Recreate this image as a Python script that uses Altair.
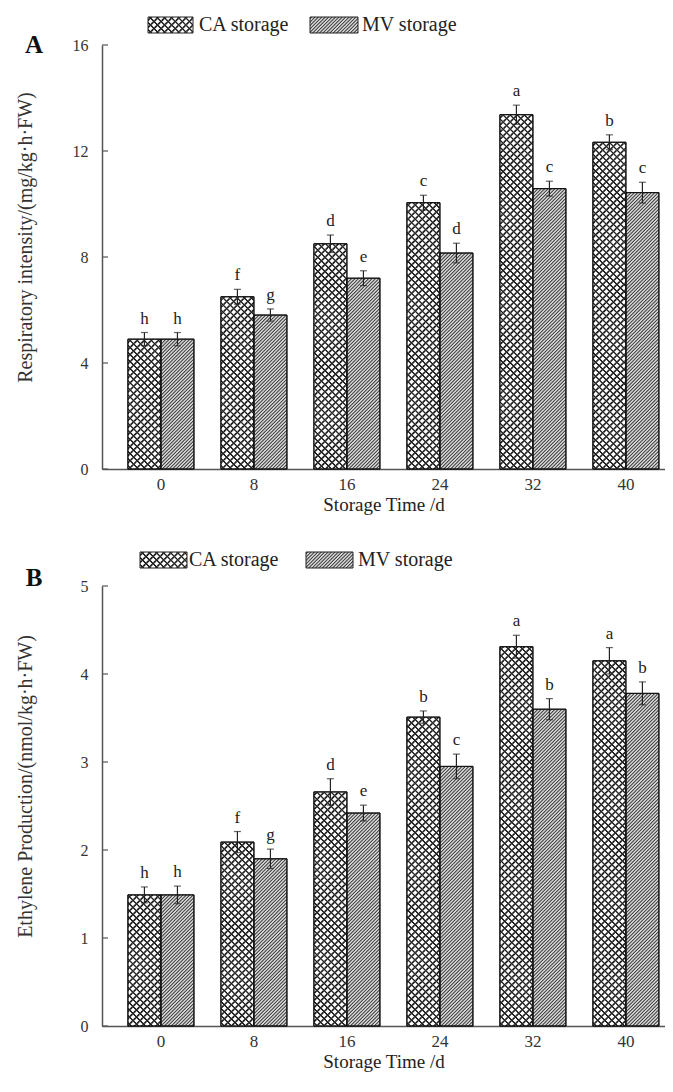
import altair as alt
import pandas as pd

# ---------------- data ----------------
days = ["0", "8", "16", "24", "32", "40"]
series = ["CA storage", "MV storage"]

resp_ca = [4.9, 6.5, 8.5, 10.05, 13.37, 12.33]
resp_ca_err = [0.25, 0.28, 0.33, 0.28, 0.36, 0.28]
resp_ca_let = ["h", "f", "d", "c", "a", "b"]
resp_mv = [4.9, 5.81, 7.2, 8.15, 10.58, 10.43]
resp_mv_err = [0.25, 0.23, 0.28, 0.37, 0.28, 0.39]
resp_mv_let = ["h", "g", "e", "d", "c", "c"]

eth_ca = [1.49, 2.09, 2.66, 3.51, 4.31, 4.15]
eth_ca_err = [0.09, 0.12, 0.15, 0.07, 0.13, 0.15]
eth_ca_let = ["h", "f", "d", "b", "a", "a"]
eth_mv = [1.49, 1.90, 2.42, 2.95, 3.60, 3.78]
eth_mv_err = [0.10, 0.11, 0.09, 0.14, 0.12, 0.13]
eth_mv_let = ["h", "g", "e", "c", "b", "b"]

resp_ticks = [0, 4, 8, 12, 16]
eth_ticks = [0, 1, 2, 3, 4, 5]

# ---------------- style ----------------
FONT = "Liberation Serif"
WIDTH = 563
PAD_IN = 0.29
PAD_OUT = 0.172
STEP = WIDTH / (len(days) - PAD_IN + 2 * PAD_OUT)
BAR_W = STEP * (1 - PAD_IN) / 2
L = 460.0  # gradient length in px (sum of px+py)


def stripe_stops(n, dark, light, prof):
    """prof: list of (fraction, is_dark) within one period"""
    parts = []
    for i in range(n):
        for f, dk in prof:
            parts.append(((i + f) / n, dark if dk else light))
    return parts


SOFT_CA = [(0.0, 0), (0.22, 0), (0.40, 1), (0.56, 1), (0.74, 0), (1.0, 0)]
SOFT_MV = [(0.0, 0), (0.15, 0), (0.42, 1), (0.58, 1), (0.85, 0), (1.0, 0)]


def stops_expr(stops):
    return "[" + ",".join("{offset:%.5f,color:'%s'}" % (o, c) for o, c in stops) + "]"


CA_N = int(L / 7.0)
MV_N = int(L / 3.4)
ca_stops_a = stripe_stops(CA_N, "#222222", "#ffffff", SOFT_CA)
ca_stops_b = stripe_stops(CA_N, "#222222", "rgba(255,255,255,0)", SOFT_CA)
mv_stops = stripe_stops(MV_N, "#4a4a4a", "#d4d4d4", SOFT_MV)


def grad_expr(stops, k, back=False):
    W = BAR_W
    S = f"({W*W:.4f}+pow(datum.value*{k:.5f},2))"
    if not back:
        return (f"{{gradient:'linear',x1:0,y1:0,x2:{W:.4f}*{L}/{S},"
                f"y2:datum.value*{k:.5f}*{L}/{S},stops:{stops_expr(stops)}}}")
    return (f"{{gradient:'linear',x1:0,y1:1,x2:{W:.4f}*{L}/{S},"
            f"y2:1-datum.value*{k:.5f}*{L}/{S},stops:{stops_expr(stops)}}}")


def fixed_grad(stops, W, H, back=False):
    S = W * W + H * H
    st = [{"offset": round(o, 5), "color": c} for o, c in stops]
    if not back:
        return {"gradient": "linear", "x1": 0, "y1": 0,
                "x2": W * L / S, "y2": H * L / S, "stops": st}
    return {"gradient": "linear", "x1": 0, "y1": 1,
            "x2": W * L / S, "y2": 1 - H * L / S, "stops": st}


def panel(ca, ca_err, ca_let, mv, mv_err, mv_let, ymax, ticks, ytitle,
          height, label, label_dy, leg, title_x, xtitle_pad):
    df = pd.DataFrame({
        "day": days + days,
        "storage": ["CA"] * 6 + ["MV"] * 6,
        "value": ca + mv,
        "err": ca_err + mv_err,
        "letter": ca_let + mv_let,
    })
    k = height / ymax
    base = alt.Chart(df).transform_calculate(
        lo="datum.value - datum.err", hi="datum.value + datum.err"
    )
    x = alt.X("day:N", sort=days,
              scale=alt.Scale(paddingInner=PAD_IN, paddingOuter=PAD_OUT, align=0.81),
              axis=alt.Axis(title="Storage Time /d", labelAngle=0, ticks=False,
                            labelPadding=7, titlePadding=xtitle_pad, labelFontSize=17,
                            titleFontSize=19, labelFont=FONT, titleFont=FONT,
                            labelColor="#333", titleColor="#222",
                            titleFontWeight="normal", domainColor="#555",
                            domainWidth=1.5))
    xo = alt.XOffset("storage:N", sort=["CA", "MV"],
                     scale=alt.Scale(paddingInner=0, paddingOuter=0))
    yscale = alt.Scale(domain=[0, ymax], nice=False, zero=True)
    y = alt.Y("value:Q", scale=yscale, stack=None,
              axis=alt.Axis(title=ytitle, values=ticks, format="d", ticks=False,
                            tickSize=0, grid=False, labelPadding=14, labelFontSize=16,
                            titleFontSize=20, labelFont=FONT, titleFont=FONT,
                            labelColor="#333", titleColor="#333",
                            titleFontWeight="normal", domainColor="#555",
                            domainWidth=1.5, titleX=title_x, titleY=height / 2 - 20,
                            titleBaseline="bottom"))

    bars = base.transform_calculate(
        g1=f"datum.storage == 'CA' ? {grad_expr(ca_stops_a, k)} : {grad_expr(mv_stops, k)}"
    ).mark_bar(stroke="#111", strokeWidth=1).encode(
        x=x, xOffset=xo, y=y,
        fill=alt.Fill("g1:N", scale=None, legend=None),
    )
    bars2 = base.transform_filter("datum.storage == 'CA'").transform_calculate(
        g2=grad_expr(ca_stops_b, k, back=True)
    ).mark_bar(strokeWidth=0).encode(
        x=x, xOffset=xo, y=alt.Y("value:Q", scale=yscale, stack=None),
        fill=alt.Fill("g2:N", scale=None, legend=None),
    )
    outline = base.mark_bar(fill=None, stroke="#111", strokeWidth=1).encode(
        x=x, xOffset=xo, y=alt.Y("value:Q", scale=yscale, stack=None))
    err = base.mark_rule(color="#222", strokeWidth=1.2).encode(
        x=x, xOffset=xo, y=alt.Y("lo:Q", scale=yscale), y2="hi:Q")
    cap_hi = base.mark_tick(color="#222", size=7, thickness=1.2).encode(
        x=x, xOffset=xo, y=alt.Y("hi:Q", scale=yscale))
    cap_lo = base.mark_tick(color="#222", size=7, thickness=1.2).encode(
        x=x, xOffset=xo, y=alt.Y("lo:Q", scale=yscale))
    letters = base.mark_text(font=FONT, fontSize=17, color="#222", dy=-9,
                             baseline="alphabetic").encode(
        x=x, xOffset=xo, y=alt.Y("hi:Q", scale=yscale), text="letter:N")

    tick_df = pd.DataFrame({"t": ticks})
    yticks = alt.Chart(tick_df).mark_rule(color="#555", strokeWidth=1.2).encode(
        y=alt.Y("t:Q", scale=yscale), x=alt.value(0), x2=alt.value(6))

    # panel letter
    lab = alt.Chart(pd.DataFrame({"l": [label]})).mark_text(
        font=FONT, fontSize=25, fontWeight="bold", color="#111",
        align="center", baseline="middle").encode(
        text="l:N", x=alt.value(-68), y=alt.value(label_dy))

    # legend
    (b1x, t1x, b2x, t2x, ly) = leg
    BH = 16
    leg_layers = []
    for (bx, tx, name, kind) in [(b1x, t1x, series[0], "ca"),
                                 (b2x, t2x, series[1], "mv")]:
        bw = bx[1] - bx[0]
        fills = ([fixed_grad(ca_stops_a, bw, BH), fixed_grad(ca_stops_b, bw, BH, back=True)]
                 if kind == "ca" else [fixed_grad(mv_stops, bw, BH)])
        d = pd.DataFrame({"name": [name]})
        for f in fills:
            leg_layers.append(alt.Chart(d).mark_rect(fill=f, strokeWidth=0).encode(
                x=alt.value(bx[0]), x2=alt.value(bx[1]),
                y=alt.value(ly - BH / 2), y2=alt.value(ly + BH / 2)))
        leg_layers.append(alt.Chart(d).mark_rect(
            fill=None, stroke="#222", strokeWidth=1).encode(
            x=alt.value(bx[0]), x2=alt.value(bx[1]),
            y=alt.value(ly - BH / 2), y2=alt.value(ly + BH / 2)))
        leg_layers.append(alt.Chart(d).mark_text(
            font=FONT, fontSize=20, color="#222", align="left",
            baseline="middle").encode(
            text="name:N", x=alt.value(tx), y=alt.value(ly)))

    return alt.layer(bars, bars2, outline, err, cap_hi, cap_lo, letters,
                     yticks, lab, *leg_layers).properties(
        width=WIDTH, height=height)


pA = panel(resp_ca, resp_ca_err, resp_ca_let, resp_mv, resp_mv_err, resp_mv_let,
           16, resp_ticks, "Respiratory intensity/(mg/kg·h·FW)", 424, "A", 0,
           ((46, 91), 97, (208, 256), 260, -20), -67, 3)
pB = panel(eth_ca, eth_ca_err, eth_ca_let, eth_mv, eth_mv_err, eth_mv_let,
           5, eth_ticks, "Ethylene Production/(nmol/kg·h·FW)", 440, "B", -8,
           ((38, 85), 87, (204, 251), 256, -26), -67, 3)

chart = alt.vconcat(pA, pB, spacing=36).properties(
    padding={"left": 7, "top": 7, "right": 0, "bottom": 12}
).configure_view(stroke=None)

chart.save("out.html", embed_options={"renderer": "svg", "actions": False})
